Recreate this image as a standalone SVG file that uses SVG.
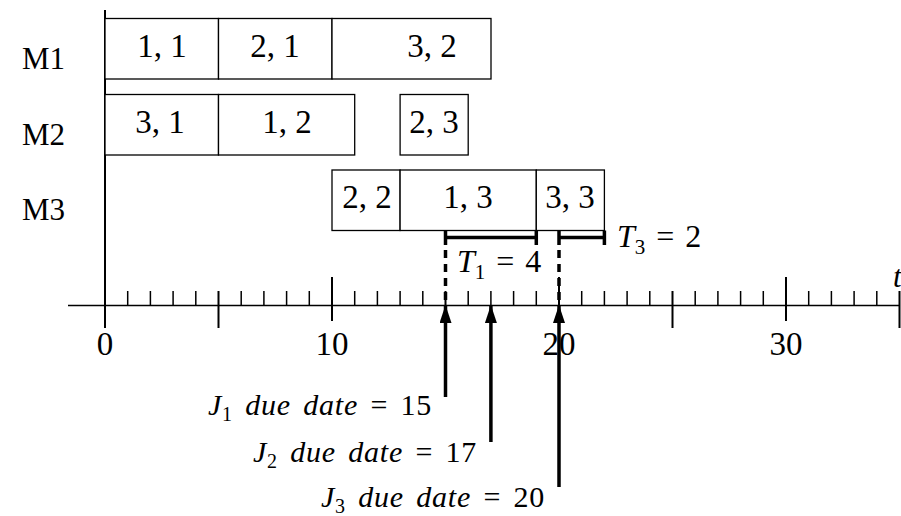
<svg xmlns="http://www.w3.org/2000/svg" width="901" height="516" viewBox="0 0 901 516">
<defs>
<style>
.box{fill:#fff;stroke:#000;stroke-width:1.3}
.lbl{font-family:"Liberation Serif",serif;font-size:33px;text-anchor:middle;fill:#000}
.ml{font-family:"Liberation Serif",serif;font-size:31px;fill:#000}
.num{font-family:"Liberation Serif",serif;font-size:33px;text-anchor:middle;fill:#000}
.jl{font-family:"Liberation Serif",serif;font-size:30px;text-anchor:end;fill:#000;letter-spacing:0.8px;word-spacing:4px}
.tl{font-family:"Liberation Serif",serif;font-size:32px;fill:#000;word-spacing:3px}
.it{font-style:italic}
.thin{stroke:#000;stroke-width:1.5;fill:none}
.thick{stroke:#000;stroke-width:3.5;fill:none}
.dash{stroke:#000;stroke-width:3.5;fill:none;stroke-dasharray:8 6}
</style>
<marker id="ah" viewBox="0 0 18 12" refX="17" refY="6" markerWidth="18" markerHeight="12" markerUnits="userSpaceOnUse" orient="auto">
<path d="M0,0 L18,6 L0,12 Z" fill="#000"/>
</marker>
</defs>
<rect width="901" height="516" fill="#fff"/>

<g id="axes">
<path class="thin" d="M68,305.5 H899.5"/>
<path stroke="#000" stroke-width="2" fill="none" d="M105,10 V328"/>
<path class="thin" d="M127.7,291V306M150.4,291V306M173.1,291V306M195.8,291V306M241.2,291V306M263.9,291V306M286.6,291V306M309.3,291V306M354.7,291V306M377.4,291V306M400.1,291V306M422.8,291V306M468.2,291V306M490.9,291V306M513.6,291V306M536.3,291V306M581.7,291V306M604.4,291V306M627.1,291V306M649.8,291V306M695.2,291V306M717.9,291V306M740.6,291V306M763.3,291V306M808.7,291V306M831.4,291V306M854.1,291V306M876.8,291V306"/>
<path stroke="#000" stroke-width="2" fill="none" d="M218.5,291V328M445.5,291V328M672.5,291V328M899.5,291V328M332,277V321M559,277V321M786,277V321"/>
<text class="num" x="105" y="355">0</text>
<text class="num" x="332" y="355">10</text>
<text class="num" x="559" y="355">20</text>
<text class="num" x="786" y="355">30</text>
<text class="ml it" x="893" y="287">t</text>
</g>

<g id="machine-labels">
<text class="ml" x="22" y="69">M1</text>
<text class="ml" x="22" y="145">M2</text>
<text class="ml" x="22" y="220">M3</text>
</g>

<g id="op-1-1"><rect class="box" x="105" y="18.5" width="113.5" height="60.5"/><text class="lbl" x="162" y="57">1, 1</text></g>
<g id="op-2-1"><rect class="box" x="218.5" y="18.5" width="113.5" height="60.5"/><text class="lbl" x="275" y="57">2, 1</text></g>
<g id="op-3-2"><rect class="box" x="332" y="18.5" width="159" height="60.5"/><text class="lbl" x="432" y="57">3, 2</text></g>

<g id="op-3-1"><rect class="box" x="105" y="94.5" width="113.5" height="60.5"/><text class="lbl" x="160" y="133">3, 1</text></g>
<g id="op-1-2"><rect class="box" x="218.5" y="94.5" width="136.2" height="60.5"/><text class="lbl" x="287" y="133">1, 2</text></g>
<g id="op-2-3"><rect class="box" x="400.1" y="94.5" width="68.1" height="60.5"/><text class="lbl" x="434" y="133">2, 3</text></g>

<g id="op-2-2"><rect class="box" x="332" y="170" width="68.1" height="60.5"/><text class="lbl" x="367" y="208">2, 2</text></g>
<g id="op-1-3"><rect class="box" x="400.1" y="170" width="136.2" height="60.5"/><text class="lbl" x="468" y="208">1, 3</text></g>
<g id="op-3-3"><rect class="box" x="536.3" y="170" width="68.1" height="60.5"/><text class="lbl" x="570" y="208">3, 3</text></g>

<g id="tardiness">
<path class="thick" d="M445.5,237.5H536.3M445.5,230.5V245M536.3,230.5V245"/>
<path class="thick" d="M559,237.5H604.4M559,230.5V245M604.4,230.5V245"/>
<text class="tl" x="457" y="272"><tspan class="it">T</tspan><tspan font-size="21" dy="7">1</tspan><tspan dy="-7"> = 4</tspan></text>
<text class="tl" x="617" y="247"><tspan class="it">T</tspan><tspan font-size="21" dy="7">3</tspan><tspan dy="-7"> = 2</tspan></text>
</g>

<g id="connectors">
<path class="dash" d="M445.5,250V306"/>
<path class="dash" d="M559,250V306"/>
<path class="thick" marker-end="url(#ah)" d="M445.5,397V306"/>
<path class="thick" marker-end="url(#ah)" d="M490.9,442V306"/>
<path class="thick" marker-end="url(#ah)" d="M559,487V306"/>
</g>

<g id="due-labels">
<text class="jl" x="432" y="415"><tspan class="it">J</tspan><tspan font-size="20" dy="6">1</tspan><tspan dy="-6" class="it"> due date</tspan> = 15</text>
<text class="jl" x="477" y="462"><tspan class="it">J</tspan><tspan font-size="20" dy="6">2</tspan><tspan dy="-6" class="it"> due date</tspan> = 17</text>
<text class="jl" x="545" y="507"><tspan class="it">J</tspan><tspan font-size="20" dy="6">3</tspan><tspan dy="-6" class="it"> due date</tspan> = 20</text>
</g>
</svg>
